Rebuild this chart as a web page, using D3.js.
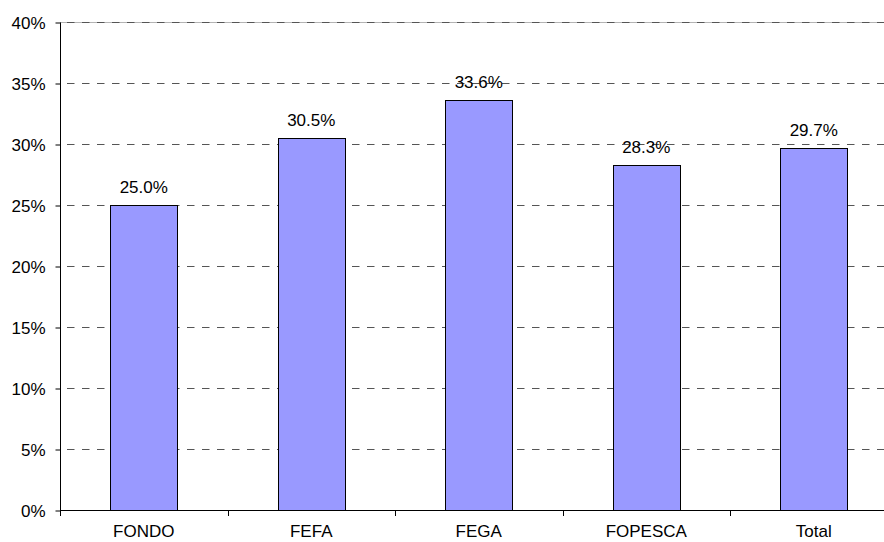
<!DOCTYPE html>
<html lang="en">
  <head>
    <meta charset="UTF-8" />
    <title>Chart</title>
    <script src="https://d3js.org/d3.v7.min.js"></script>
    <style>
      body { margin: 0; background: #fff; }
      text { font-family: "Liberation Sans", Arial, sans-serif; font-size: 17px; fill: #000; }
    </style>
  </head>
  <body>
    <svg width="884" height="542"></svg>
    <script>
      // data
      var categories = ["FONDO", "FEFA", "FEGA", "FOPESCA", "Total"];
      var values = [0.25, 0.305, 0.336, 0.283, 0.297];
      var yTicks = [0, 0.05, 0.1, 0.15, 0.2, 0.25, 0.3, 0.35, 0.4];

      var svg = d3.select("svg");
      var mLeft = 60, mRight = 897.5, mTop = 22, mBottom = 510;

      var x = d3.scaleBand()
        .domain(categories)
        .range([mLeft, mRight])
        .paddingInner(0.6)
        .paddingOuter(0.3);

      var y = d3.scaleLinear().domain([0, 0.4]).range([mBottom, mTop]);

      // plot border on top (grey)
      svg.append("line")
        .attr("x1", mLeft).attr("x2", mRight)
        .attr("y1", mTop + 0.5).attr("y2", mTop + 0.5)
        .style("stroke", "#b4b4b4").attr("stroke-width", 1);

      // dashed grid lines
      svg.append("g").selectAll("line")
        .data(yTicks.filter((t) => t > 0))
        .join("line")
        .attr("x1", mLeft).attr("x2", mRight)
        .attr("y1", (d) => Math.round(y(d)) + 0.5)
        .attr("y2", (d) => Math.round(y(d)) + 0.5)
        .style("stroke", "#555")
        .attr("stroke-width", 1)
        .attr("stroke-dasharray", "7.5,7.5")
        .attr("stroke-dashoffset", 8);

      // bars
      svg.append("g").selectAll("rect")
        .data(values)
        .join("rect")
        .attr("x", (d, i) => Math.round(x(categories[i])) + 0.5)
        .attr("y", (d) => Math.round(y(d)) + 0.5)
        .attr("width", Math.round(x.bandwidth()))
        .attr("height", (d) => Math.round(y(0)) - Math.round(y(d)))
        .style("fill", "#9999ff")
        .style("stroke", "#000")
        .attr("stroke-width", 1);

      // value labels
      svg.append("g").selectAll("text")
        .data(values)
        .join("text")
        .attr("x", (d, i) => x(categories[i]) + x.bandwidth() / 2)
        .attr("y", (d) => y(d) - 12)
        .attr("text-anchor", "middle")
        .text((d) => (d * 100).toFixed(1) + "%");

      // y axis
      var yAxis = d3.axisLeft(y)
        .tickValues(yTicks)
        .tickSize(5)
        .tickFormat(d3.format(".0%"));
      var gy = svg.append("g")
        .attr("transform", "translate(" + (mLeft + 0.5) + ",0.5)")
        .call(yAxis);
      gy.select(".domain").attr("d", "M0," + mTop + "V" + mBottom).style("stroke", "#000");
      gy.selectAll(".tick line").style("stroke", "#000");
      gy.selectAll(".tick text").attr("x", -15).attr("dy", "0.35em")
        .style("font-size", "17px").style("font-family", "Liberation Sans, Arial, sans-serif");

      // x axis: ticks at category boundaries
      var step = x.step();
      var boundaries = d3.range(categories.length + 1).map((i) => mLeft + i * step);
      var gx = svg.append("g");
      gx.append("line")
        .attr("x1", mLeft).attr("x2", mRight)
        .attr("y1", mBottom + 0.5).attr("y2", mBottom + 0.5)
        .style("stroke", "#000");
      gx.selectAll("line.tk")
        .data(boundaries)
        .join("line")
        .attr("class", "tk")
        .attr("x1", (d) => Math.round(d) + 0.5).attr("x2", (d) => Math.round(d) + 0.5)
        .attr("y1", mBottom).attr("y2", mBottom + 6)
        .style("stroke", "#000");
      gx.selectAll("text")
        .data(categories)
        .join("text")
        .attr("x", (d) => x(d) + x.bandwidth() / 2)
        .attr("y", mBottom + 27)
        .attr("text-anchor", "middle")
        .text((d) => d);
    </script>
  </body>
</html>
